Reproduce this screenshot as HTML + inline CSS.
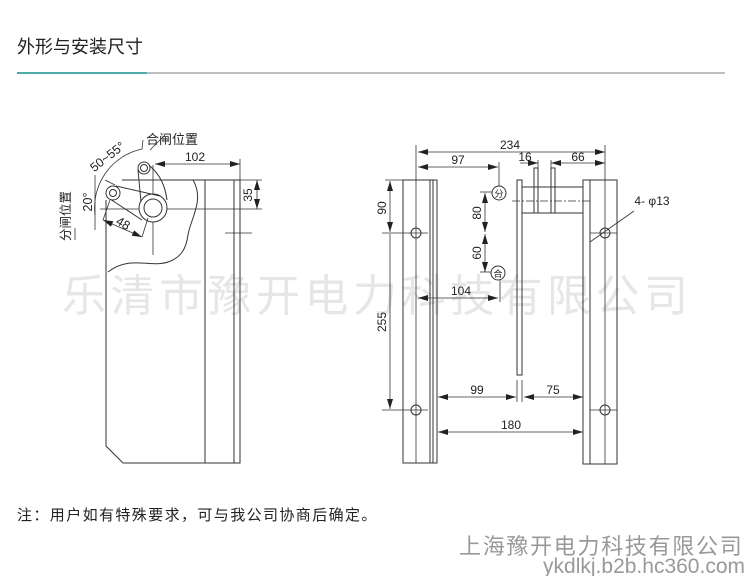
<!DOCTYPE html>
<html><head><meta charset="utf-8"><style>
body{margin:0;background:#fff;width:752px;height:576px;overflow:hidden;position:relative;font-family:"Liberation Sans","Noto Sans CJK SC",sans-serif}
</style></head><body>
<svg width="752" height="576" viewBox="0 0 752 576" xmlns="http://www.w3.org/2000/svg" style="position:absolute;left:0;top:0">
<defs><marker id="a" viewBox="0 0 10 6" refX="10" refY="3" markerWidth="10" markerHeight="6" orient="auto-start-reverse" markerUnits="userSpaceOnUse"><path d="M0,0L10,3L0,6z" fill="#222"/></marker></defs>
<text x="17" y="53" font-size="18" fill="#222" font-family="Liberation Sans,Noto Sans CJK SC,sans-serif">外形与安装尺寸</text>
<line x1="17" y1="73" x2="725" y2="73" stroke="#999" stroke-width="1.2"/>
<line x1="17" y1="73" x2="147" y2="73" stroke="#1a9a9a" stroke-width="1.5"/>
<text x="62" y="311" font-size="44" fill="#e6e6e6" letter-spacing="4.5" font-family="Liberation Sans,Noto Sans CJK SC,sans-serif">乐清市豫开电力科技有限公司</text>
<g stroke="#333" stroke-width="1" fill="none">
<path d="M122,180 L240,180 L240,463 L123,463 L106,446 L106,200"/>
<line x1="205" y1="180" x2="205" y2="463"/>
<line x1="234" y1="180" x2="234" y2="463"/>
<path d="M193,180 C205,200 190,220 188,235 C186,250 180,258 168,262 C150,268 130,255 108,272"/>
<line x1="225" y1="233" x2="252" y2="233" stroke-width="0.8"/>
<line x1="100" y1="209" x2="262" y2="209" stroke-width="0.8"/>
<line x1="153" y1="165" x2="153" y2="255" stroke-width="0.8"/>
<circle cx="153" cy="208" r="14" fill="#fff"/>
<circle cx="153" cy="208" r="9"/>
<path d="M138,170 L141,202 M150,166 C160,175 165,185 167,200"/>
<circle cx="144" cy="168" r="6" fill="#fff"/>
<circle cx="144" cy="168" r="3.5"/>
<path d="M116,186 L160,196 M110,199 L142,220"/>
<circle cx="113" cy="193" r="7" fill="#fff"/>
<circle cx="113" cy="193" r="3.5"/>
<path d="M95,215 A60,60 0 0 1 142,149" stroke-width="0.8"/>
<line x1="142" y1="149" x2="143" y2="140" stroke-width="0.8"/>
<line x1="150" y1="150" x2="165" y2="135" stroke-width="0.8"/>
<line x1="115" y1="185" x2="105" y2="180" stroke-width="0.8"/>
<line x1="95" y1="230" x2="95" y2="175" stroke-width="0.8"/>
<line x1="75" y1="228" x2="75" y2="240" stroke-width="0.8"/>
<line x1="103" y1="220" x2="142" y2="237" marker-start="url(#a)" marker-end="url(#a)" stroke-width="0.8"/>
<line x1="103" y1="220" x2="110" y2="200" stroke-width="0.8"/>
<line x1="142" y1="237" x2="148" y2="218" stroke-width="0.8"/>
<line x1="155" y1="164" x2="240" y2="164" marker-start="url(#a)" marker-end="url(#a)" stroke-width="0.8"/>
<line x1="240" y1="159" x2="240" y2="180" stroke-width="0.8"/>
<line x1="257" y1="180" x2="257" y2="209" marker-start="url(#a)" marker-end="url(#a)" stroke-width="0.8"/>
<line x1="240" y1="180" x2="262" y2="180" stroke-width="0.8"/>

<rect x="403" y="180" width="34" height="283"/>
<line x1="416" y1="145" x2="416" y2="463" stroke-width="0.8"/>
<line x1="430" y1="180" x2="430" y2="463"/>
<line x1="433" y1="180" x2="433" y2="463"/>
<circle cx="416" cy="233" r="5"/><circle cx="416" cy="410" r="5"/>
<line x1="382" y1="233" x2="428" y2="233" stroke-width="0.8"/>
<line x1="382" y1="410" x2="428" y2="410" stroke-width="0.8"/>
<line x1="385" y1="180" x2="403" y2="180" stroke-width="0.8"/>
<rect x="583" y="180" width="34" height="284"/>
<line x1="605" y1="145" x2="605" y2="464" stroke-width="0.8"/>
<line x1="590" y1="180" x2="590" y2="464"/>
<circle cx="605" cy="233" r="5"/><circle cx="605" cy="410" r="5"/>
<line x1="590" y1="233" x2="617" y2="233" stroke-width="0.8"/>
<line x1="590" y1="410" x2="617" y2="410" stroke-width="0.8"/>
<rect x="517" y="180" width="5" height="195"/>
<rect x="522" y="187" width="61" height="26"/>
<rect x="534" y="168" width="4" height="45"/>
<rect x="551" y="168" width="4" height="45"/>
<line x1="512" y1="201" x2="592" y2="201" stroke-width="0.8" stroke-dasharray="8,2,2,2"/>
<line x1="517" y1="380" x2="517" y2="402" stroke-width="0.8"/>
<line x1="522" y1="380" x2="522" y2="402" stroke-width="0.8"/>
<line x1="418" y1="152" x2="605" y2="152" marker-start="url(#a)" marker-end="url(#a)" stroke-width="0.8"/>
<line x1="418" y1="167" x2="498" y2="167" marker-start="url(#a)" marker-end="url(#a)" stroke-width="0.8"/>
<line x1="499" y1="162" x2="499" y2="186" stroke-width="0.8"/>
<line x1="538" y1="160" x2="538" y2="168" stroke-width="0.8"/>
<line x1="551" y1="160" x2="551" y2="168" stroke-width="0.8"/>
<line x1="520" y1="163" x2="538" y2="163" marker-end="url(#a)" stroke-width="0.8"/>
<line x1="551" y1="163" x2="605" y2="163" marker-start="url(#a)" marker-end="url(#a)" stroke-width="0.8"/>
<circle cx="499" cy="193" r="7"/>
<circle cx="498" cy="273" r="7"/>
<line x1="480" y1="192" x2="492" y2="192" stroke-width="0.8"/>
<line x1="480" y1="272" x2="491" y2="272" stroke-width="0.8"/>
<line x1="485" y1="193" x2="485" y2="232" marker-start="url(#a)" marker-end="url(#a)" stroke-width="0.8"/>
<line x1="485" y1="234" x2="485" y2="272" marker-start="url(#a)" marker-end="url(#a)" stroke-width="0.8"/>
<line x1="390" y1="181" x2="390" y2="232" marker-start="url(#a)" marker-end="url(#a)" stroke-width="0.8"/>
<line x1="390" y1="234" x2="390" y2="409" marker-end="url(#a)" stroke-width="0.8"/>
<line x1="418" y1="298" x2="498" y2="298" marker-start="url(#a)" marker-end="url(#a)" stroke-width="0.8"/>
<line x1="500" y1="280" x2="500" y2="302" stroke-width="0.8"/>
<line x1="438" y1="397" x2="516" y2="397" marker-start="url(#a)" marker-end="url(#a)" stroke-width="0.8"/>
<line x1="524" y1="397" x2="583" y2="397" marker-start="url(#a)" marker-end="url(#a)" stroke-width="0.8"/>
<line x1="438" y1="432" x2="583" y2="432" marker-start="url(#a)" marker-end="url(#a)" stroke-width="0.8"/>
<line x1="634" y1="211" x2="590" y2="242" stroke-width="0.8"/>
</g>
<g font-size="12" fill="#222" font-family="Liberation Sans,Noto Sans CJK SC,sans-serif" text-anchor="middle">
<text x="195" y="161">102</text>
<text x="172" y="144" font-size="13">合闸位置</text>
<text transform="translate(110,160) rotate(-38)" font-size="12.5">50~55°</text>
<text transform="translate(92,202) rotate(-90)" font-size="12.5">20°</text>
<text transform="translate(121,227) rotate(30)" font-size="12.5">48</text>
<text transform="translate(70,216) rotate(-90)" font-size="12.5">分闸位置</text>
<text transform="translate(252,195) rotate(-90)">35</text>
<text x="510" y="149">234</text>
<text x="458" y="164">97</text>
<text x="525" y="161">16</text>
<text x="578" y="161">66</text>
<text x="499" y="197" font-size="9">分</text>
<text x="498" y="277" font-size="9">合</text>
<text transform="translate(481,213) rotate(-90)">80</text>
<text transform="translate(481,253) rotate(-90)">60</text>
<text transform="translate(386,208) rotate(-90)">90</text>
<text transform="translate(386,322) rotate(-90)">255</text>
<text x="461" y="295">104</text>
<text x="477" y="394">99</text>
<text x="553" y="394">75</text>
<text x="511" y="429">180</text>
<text x="652" y="205">4- φ13</text>
</g>
<text x="17" y="520" font-size="15" letter-spacing="1.4" fill="#222" font-family="Liberation Sans,Noto Sans CJK SC,sans-serif">注：用户如有特殊要求，可与我公司协商后确定。</text>
<text x="459" y="554" font-size="22" letter-spacing="1.7" fill="#999" font-family="Liberation Sans,Noto Sans CJK SC,sans-serif">上海豫开电力科技有限公司</text>
<text x="745" y="573" font-size="21" fill="#999" text-anchor="end" font-family="Liberation Sans,sans-serif">ykdlkj.b2b.hc360.com</text>
</svg>
</body></html>
